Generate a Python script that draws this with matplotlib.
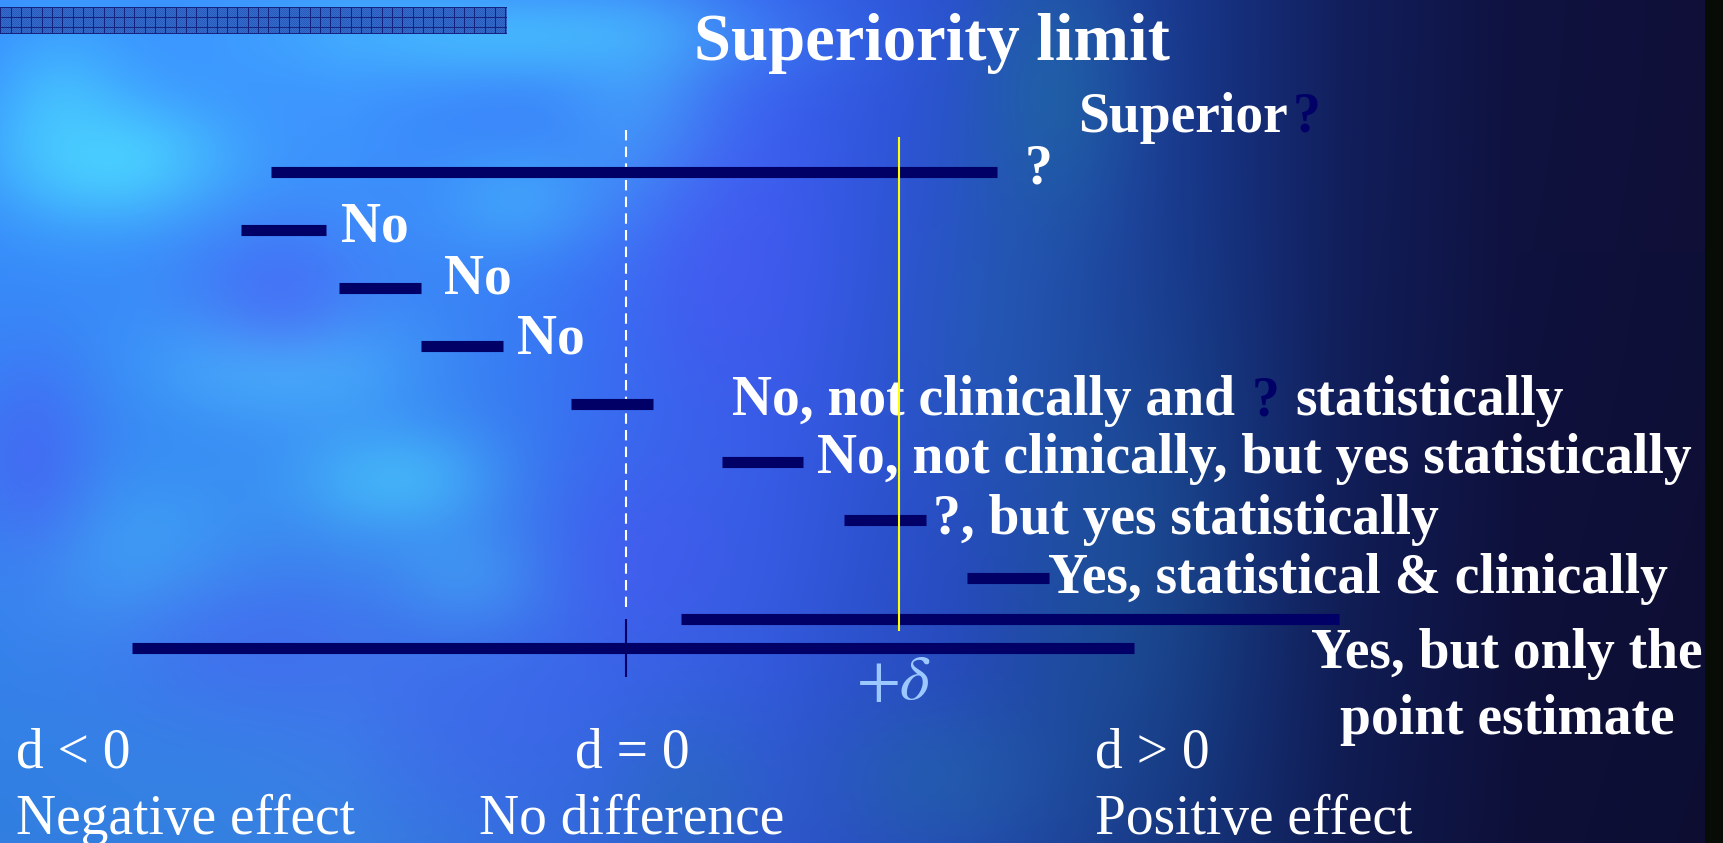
import numpy as np
import matplotlib
matplotlib.use("Agg")
import matplotlib.pyplot as plt

# Confidence intervals for the difference d, in units of the superiority margin (delta = 1)
ci_lower = [-1.30, -1.41, -1.05, -0.75, -0.20, 0.35, 0.80, 1.25, 0.20, -1.81]
ci_upper = [1.36, -1.10, -0.75, -0.45, 0.10, 0.65, 1.10, 1.55, 2.61, 1.86]

verdicts = [
    "?",
    "No",
    "No",
    "No",
    "No, not clinically and ? statistically",
    "No, not clinically, but yes statistically",
    "?, but yes statistically",
    "Yes, statistical & clinically",
    "Yes, but only the\npoint estimate",
]

title = "Superiority limit"
region_signs = ["d < 0", "d = 0", "d > 0"]
region_names = ["Negative effect", "No difference", "Positive effect"]

W, H = 1724, 843
NAVY = "#000066"
WHITE = "#ffffff"
SERIF = "Liberation Serif"

fig = plt.figure(figsize=(W / 100, H / 100), dpi=100)

# ---------------- slide background ----------------
bg = fig.add_axes([0, 0, 1, 1])
yy, xx = np.mgrid[0:H, 0:W].astype(float)
u = xx / W
stops = [0.00, 0.20, 0.35, 0.45, 0.55, 0.62, 0.70, 0.78, 0.88, 1.00]
R = [0.22, 0.24, 0.22, 0.21, 0.17, 0.13, 0.09, 0.07, 0.06, 0.06]
G = [0.56, 0.58, 0.46, 0.38, 0.31, 0.27, 0.20, 0.12, 0.07, 0.06]
B = [1.00, 1.00, 0.98, 0.93, 0.82, 0.68, 0.52, 0.36, 0.25, 0.22]
img = np.dstack([np.interp(u, stops, c) for c in (R, G, B)])
# darker towards the bottom
shade = 1.0 - 0.12 * (yy / H) ** 1.5
img *= shade[..., None]


def blend(color, blobs):
    global img
    col = np.array(color)
    for cx, cy, sx, sy, s in blobs:
        w = s * np.exp(-(((xx - cx) / sx) ** 2 + ((yy - cy) / sy) ** 2) / 2)
        img = img * (1 - w[..., None]) + col * w[..., None]


blend((0.30, 0.86, 1.0), [(120, 160, 80, 45, 0.75), (60, 110, 50, 60, 0.5),
                          (280, 360, 80, 40, 0.6), (400, 480, 70, 40, 0.5),
                          (520, 35, 160, 35, 0.55), (520, 200, 60, 40, 0.35),
                          (640, 110, 60, 80, 0.4), (130, 560, 80, 60, 0.3),
                          (470, 580, 60, 40, 0.3)])
blend((0.30, 0.32, 0.95), [(280, 300, 70, 60, 0.5), (720, 260, 80, 120, 0.5),
                           (30, 460, 50, 80, 0.5), (640, 560, 80, 80, 0.45),
                           (250, 640, 120, 60, 0.4), (470, 720, 120, 80, 0.3)])
blend((0.12, 0.45, 0.62), [(1050, 90, 60, 100, 0.5), (940, 780, 80, 60, 0.4),
                           (1120, 560, 90, 200, 0.3), (690, 800, 60, 60, 0.3),
                           (980, 330, 60, 120, 0.25)])
img[:, 1705:] = (0.03, 0.05, 0.03)
bg.imshow(np.clip(img, 0, 1), extent=(0, W, H, 0), aspect="auto", interpolation="bilinear")

# decorative grid strip in the top-left corner
sh, sw = 27, 507
strip = np.ones((sh, sw, 3)) * np.array([0.17, 0.36, 0.73])
chk = ((np.arange(sh)[:, None] + np.arange(sw)[None, :]) % 2 == 0)
strip[chk] = (0.20, 0.42, 0.80)
strip[:, (np.arange(sw) % 10.3 < 1)] = (0.08, 0.14, 0.50)
strip[[0, 10, 20, 26], :] = (0.08, 0.14, 0.50)
bg.imshow(strip, extent=(0, sw, 34, 7), aspect="auto", interpolation="nearest")
bg.set_xlim(0, W)
bg.set_ylim(H, 0)
bg.axis("off")

# ---------------- interval chart ----------------
ax = fig.add_axes([0, 0, 1, 1])
ax.patch.set_alpha(0)
ax.axis("off")
px_zero, px_per_unit = 626, 273
row0_px, row_step_px = 171.5, 58
ax.set_xlim(-px_zero / px_per_unit, (W - px_zero) / px_per_unit)
ax.set_ylim((H - row0_px) / row_step_px, -row0_px / row_step_px)

rows = [0, 1, 2, 3, 4, 5, 6, 7, 7.724, 8.207]
ax.hlines(rows, ci_lower, ci_upper, colors=NAVY, lw=8, capstyle="butt", zorder=3)

# line of no difference and the superiority margin
ax.vlines(0, -0.716, 7.509, colors=WHITE, lw=1.5, linestyles=(0, (5, 3)), zorder=2)
ax.vlines(0, 7.716, 8.716, colors=NAVY, lw=1.5, zorder=4)
ax.vlines(1, -0.595, 7.922, colors="#ffff00", lw=1.5, zorder=4)

# ---------------- texts ----------------
bold = dict(family=SERIF, weight="bold", color=WHITE, va="baseline")
bg.text(932, 60, title, fontsize=48, ha="center", **bold)
bg.text(1078, 132, "Superior", fontsize=40, ha="left", **bold)
bg.text(1293, 132, "?", fontsize=40, ha="left", **{**bold, "color": NAVY})

label_pos = [(1025, 183), (341, 241), (444, 294), (517, 353), None,
             (817, 473), (933, 534), (1048, 593), None]
for text, pos in zip(verdicts, label_pos):
    if pos is not None:
        bg.text(pos[0], pos[1], text, fontsize=40, ha="left", **bold)

first, rest = verdicts[4].split(" ? ")
bg.text(732, 415, first, fontsize=40, ha="left", **bold)
bg.text(1252, 415, "?", fontsize=40, ha="left", **{**bold, "color": NAVY})
bg.text(1295, 415, rest, fontsize=40, ha="left", **bold)

for line, base in zip(verdicts[8].split("\n"), (668, 734)):
    bg.text(1507, base, line, fontsize=40, ha="center", **bold)

bg.text(894, 699, r"$+\delta$", fontsize=46, ha="center", va="baseline",
        color="#9cc8ff", math_fontfamily="stix")

plain = dict(family=SERIF, color=WHITE, va="baseline", fontsize=40, ha="left")
for x_sign, x_name, s, n in zip((16, 575, 1095), (16, 479, 1095), region_signs, region_names):
    bg.text(x_sign, 768, s, **plain)
    bg.text(x_name, 834, n, **plain)

fig.savefig("out.png", dpi=100)
